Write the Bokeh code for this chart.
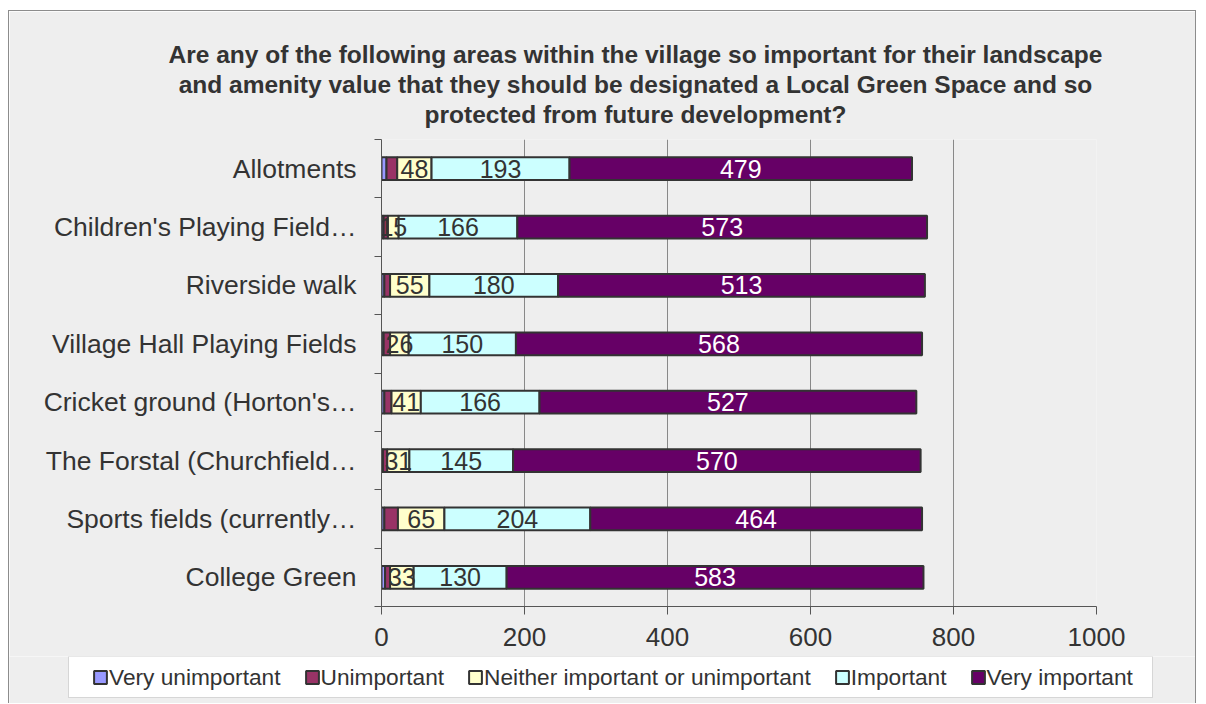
from bokeh.plotting import figure
from bokeh.models import ColumnDataSource, FixedTicker, Title, BoxAnnotation
from bokeh.core.properties import value
from bokeh.embed import file_html
from bokeh.resources import INLINE

# ---------------- data ----------------
title_lines = [
    "Are any of the following areas within the village so important for their landscape",
    "and amenity value that they should be designated a Local Green Space and so",
    "protected from future development?",
]
categories = [
    "Allotments",
    "Children's Playing Field\u2026",
    "Riverside walk",
    "Village Hall Playing Fields",
    "Cricket ground (Horton's\u2026",
    "The Forstal (Churchfield\u2026",
    "Sports fields (currently\u2026",
    "College Green",
]
series_names = ["Very unimportant", "Unimportant", "Neither important or unimportant",
                "Important", "Very important"]
very_unimportant = [7, 3, 4, 3, 4, 2, 4, 5]
unimportant = [15, 6, 8, 9, 10, 6, 19, 7]
neither = [48, 15, 55, 26, 41, 31, 65, 33]
important = [193, 166, 180, 150, 166, 145, 204, 130]
very_important = [479, 573, 513, 568, 527, 570, 464, 583]
x_ticks = [0, 200, 400, 600, 800, 1000]

# ---------------- style ----------------
colors = ["#9999ff", "#993366", "#ffffcc", "#ccffff", "#660066"]
label_colors = [None, None, "#333333", "#333333", "#ffffff"]
FONT = "Liberation Sans"
TXT = "#333333"
BG = "#eeeeee"
AX = "#555555"
BORDER = "1px solid #8c8c8c"

# layout (page pixels); content of the bordered box starts at (OX, OY)
OX, OY = 9, 11
FW = 1188
P_BOTTOM = 657          # page y where the chart canvas ends / legend strip starts
PAGE_H = 704
F_LEFT, F_RIGHT, F_TOP, F_BOTTOM = 381, 1096, 139, 606
LEG_BOX = (68, 1152, 657, 698)   # left, right, top, bottom of the legend frame
LEG_FIRST_GLYPH = 100
LEG_CENTER_Y = 670.5
n = len(categories)

# approximate Arial Bold advance widths (per 1000 em) for title centring
AWB = dict(zip("abcdefghijklmnopqrstuvwxyz",
               [556, 611, 556, 611, 556, 333, 611, 611, 278, 278, 556, 278, 889,
                611, 611, 611, 611, 389, 556, 333, 611, 556, 778, 556, 556, 500]))
AWB.update({" ": 278, "?": 611, "A": 722, "G": 778, "L": 611, "S": 667})

def text_w(s, fs):
    return sum(AWB.get(ch, 611) for ch in s) * fs / 1000.0

ys = [n - 0.5 - i for i in range(n)]
keys = ["vu", "u", "ne", "im", "vi"]
series = [very_unimportant, unimportant, neither, important, very_important]
src = ColumnDataSource(dict(y=ys, **{k: s for k, s in zip(keys, series)}))

P_H = P_BOTTOM - OY
p = figure(width=FW, height=P_H, x_range=(0, 1000), y_range=(0, n),
           output_backend="svg", toolbar_location=None,
           min_border_left=F_LEFT - OX,
           min_border_right=FW - (F_RIGHT - OX),
           min_border_top=F_TOP - OY,
           min_border_bottom=P_H - (F_BOTTOM - OY),
           background_fill_color=BG, border_fill_color=BG,
           outline_line_color=None)
p.styles = {"border-left": BORDER, "border-right": BORDER, "border-top": BORDER,
            "margin-left": f"{OX - 1}px", "margin-top": f"{OY - 1}px"}

p.hbar_stack(keys, y="y", height=0.39, fill_color=colors, line_color="#333333",
             line_width=2, source=src)

# data labels
cum = [0] * n
lx, ly, lt, lc = [], [], [], []
for vals, col in zip(series, label_colors):
    for i, v in enumerate(vals):
        left = cum[i]
        cum[i] += v
        if col is not None:
            lx.append(left + v / 2)
            ly.append(ys[i])
            lt.append(str(v))
            lc.append(col)
p.text(x="x", y="y", text="t", text_color="c",
       source=ColumnDataSource(dict(x=lx, y=ly, t=lt, c=lc)),
       text_font=value(FONT), text_font_size="25px",
       text_align="center", text_baseline="middle")

# axes
xa = p.xaxis[0]
xa.ticker = FixedTicker(ticks=x_ticks)
xa.major_tick_out = 8
xa.major_tick_in = 0
xa.minor_tick_out = 0
xa.axis_line_color = AX
xa.major_tick_line_color = AX
xa.major_label_text_font = FONT
xa.major_label_text_font_size = "26px"
xa.major_label_text_color = TXT
xa.major_label_standoff = 13

ya = p.yaxis[0]
ya.ticker = FixedTicker(ticks=ys, minor_ticks=list(range(n + 1)))
ya.major_label_overrides = {y: c for y, c in zip(ys, categories)}
ya.major_tick_out = 0
ya.major_tick_in = 0
ya.minor_tick_out = 7
ya.minor_tick_in = 0
ya.minor_tick_line_color = AX
ya.axis_line_color = AX
ya.major_label_text_font = FONT
ya.major_label_text_font_size = "26.5px"
ya.major_label_text_color = TXT
ya.major_label_standoff = 18

p.xgrid.ticker = FixedTicker(ticks=x_ticks)
p.xgrid.grid_line_color = "#888888"
p.xgrid.grid_line_width = 1
p.ygrid.visible = False

# title: spacer + three stacked lines (first in p.above is closest to the frame)
TITLE_FS = 24.5
title_cx = 635
p.add_layout(Title(text=" ", text_font_size="1px", standoff=8), "above")
for line in reversed(title_lines):
    off = title_cx - text_w(line, TITLE_FS) / 2 - F_LEFT
    p.add_layout(Title(text=line, align="left", offset=off, standoff=1,
                       text_font=FONT, text_font_size=f"{TITLE_FS}px",
                       text_font_style="bold", text_color=TXT), "above")

# legend strip: second canvas whose frame is the whole strip (ranges in page pixels),
# so nothing clips the legend.  Its stacked renderers are hidden; only the legend shows.
Q_H = PAGE_H - P_BOTTOM
q = figure(width=FW, height=Q_H, x_range=(OX, OX + FW), y_range=(PAGE_H, P_BOTTOM),
           x_axis_type=None, y_axis_type=None, min_border=0,
           output_backend="svg", toolbar_location=None,
           background_fill_color=BG, border_fill_color=BG, outline_line_color=None)
q.styles = {"border-left": BORDER, "border-right": BORDER, "margin-left": f"{OX - 1}px"}
q.grid.visible = False
q.hbar_stack(keys, y="y", height=0.39, fill_color=colors, line_color="#333333",
             line_width=2, source=src, legend_label=series_names, visible=False)

bl, br, bt, bb = LEG_BOX
q.add_layout(BoxAnnotation(left=bl, right=br, top=bt, bottom=bb, level="underlay",
                           fill_color="white", fill_alpha=1.0,
                           line_color="#8c8c8c", line_width=1))

PAD = 8
ITEM_H = 26
lg = q.legend[0]
lg.orientation = "horizontal"
lg.location = (LEG_FIRST_GLYPH - PAD - OX, PAGE_H - (LEG_CENTER_Y + PAD + ITEM_H / 2))
lg.margin = 0
lg.padding = PAD
lg.spacing = 23
lg.label_standoff = 1
lg.glyph_width = 16
lg.glyph_height = 16
lg.label_height = ITEM_H
lg.label_text_font = FONT
lg.label_text_font_size = "22.7px"
lg.label_text_color = TXT
lg.border_line_color = None
lg.background_fill_alpha = 0.0
lg.inactive_fill_alpha = 0.0
lg.click_policy = "none"

open("out.html", "w").write(file_html([p, q], INLINE))
